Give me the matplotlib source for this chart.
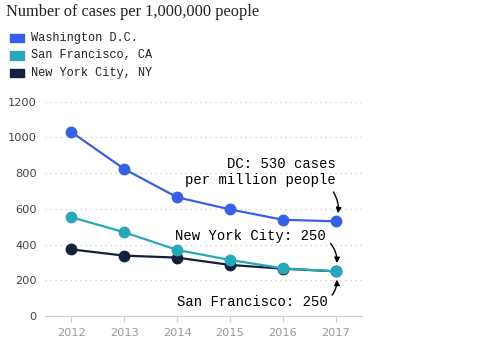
import matplotlib.pyplot as plt

years = [2012, 2013, 2014, 2015, 2016, 2017]
dc = [1030, 823, 665, 597, 539, 530]
sf = [553, 469, 370, 314, 267, 250]
nyc = [373, 338, 327, 286, 265, 250]
yticks = [0, 200, 400, 600, 800, 1000, 1200]

c_dc = '#3860e6'
c_sf = '#27a8b9'
c_nyc = '#14203d'
mono = 'Liberation Mono'

fig = plt.figure(figsize=(4.92, 3.45), dpi=100)
ax = fig.add_axes([45/492, 29/345, 317/492, 214.3/345])

# lineas (NYC abajo, SF encima)
ax.plot(years, nyc, color=c_nyc, lw=1.6, marker='o', ms=7.5, clip_on=False, zorder=3)
ax.plot(years, sf, color=c_sf, lw=1.6, marker='o', ms=7.5, clip_on=False, zorder=4)
ax.plot(years, dc, color=c_dc, lw=1.6, marker='o', ms=7.5, clip_on=False, zorder=5)

ax.set_xlim(2011.5, 2017.5)
ax.set_ylim(0, 1200)
ax.set_xticks(years)
ax.set_yticks(yticks)
ax.tick_params(axis='x', colors='#cccccc', labelcolor='#999999', length=4, labelsize=8.2, pad=5)
ax.tick_params(axis='y', length=0, labelcolor='#444444', labelsize=8.2, pad=6)
for s in ['top', 'right', 'left']:
    ax.spines[s].set_visible(False)
ax.spines['bottom'].set_color('#cccccc')
for v in yticks[1:]:
    ax.axhline(v, color='#cccccc', lw=0.9, ls=(0, (1, 3)), zorder=1)

# titulo y leyenda
fig.text(6/492, 1 - 12/345, 'Number of cases per 1,000,000 people', family='Liberation Serif',
         fontsize=11.8, color='#222222', va='center', ha='left')
for i, (lab, col) in enumerate([('Washington D.C.', c_dc), ('San Francisco, CA', c_sf),
                                ('New York City, NY', c_nyc)]):
    y = 1 - (38 + i * 17.5) / 345
    fig.patches.append(plt.Rectangle((10/492, y - 4/345), 14/492, 8/345, color=col,
                                     transform=fig.transFigure, figure=fig))
    fig.text(31/492, y, lab, family=mono, fontsize=8.6, color='#222222', va='center', ha='left')

# anotaciones
arr = dict(arrowstyle='-|>', color='black', lw=1, mutation_scale=8, shrinkA=2, shrinkB=6)
ax.annotate('DC: 530 cases\nper million people', xy=(2017, dc[-1]), xytext=(2017.0, 806),
            ha='right', va='center', family=mono, fontsize=10, linespacing=1.15,
            arrowprops=dict(arr, connectionstyle='arc3,rad=-0.3', relpos=(0.96, 0.0)))
ax.annotate('New York City: 250', xy=(2017, sf[-1]), xytext=(2016.82, 450),
            ha='right', va='center', family=mono, fontsize=10,
            arrowprops=dict(arr, connectionstyle='arc3,rad=-0.3', relpos=(1.0, 0.3)))
ax.annotate('San Francisco: 250', xy=(2017, sf[-1]), xytext=(2016.85, 80),
            ha='right', va='center', family=mono, fontsize=10,
            arrowprops=dict(arr, connectionstyle='arc3,rad=0.3', relpos=(1.0, 0.6)))

plt.savefig('out.png', dpi=100)
